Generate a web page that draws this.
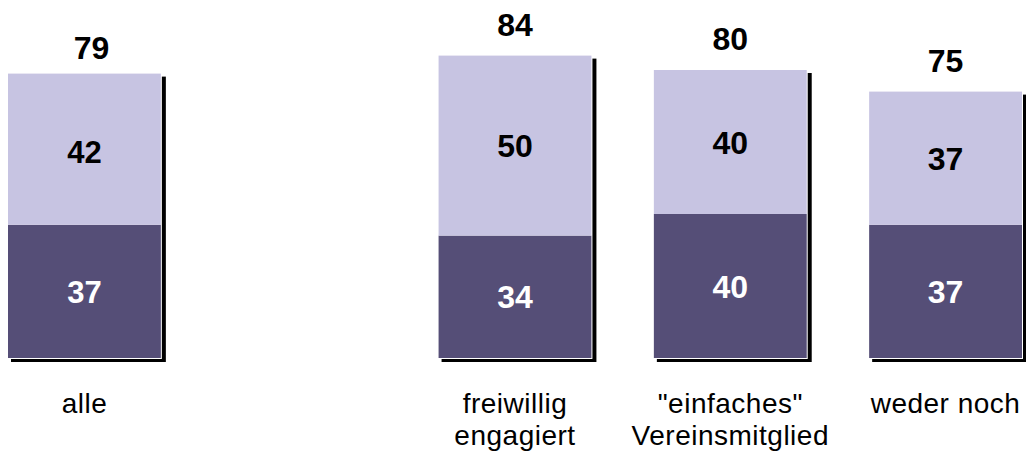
<!DOCTYPE html>
<html>
<head>
<meta charset="utf-8">
<script src="https://cdn.jsdelivr.net/npm/d3@7"></script>
<style>
  body { margin: 0; background: #fff; }
  svg text { font-family: 'Liberation Sans', Arial, sans-serif; }
</style>
</head>
<body>
<div id="chart"></div>
<script>
const width = 1026
const height = 457

// categories (empty slot keeps the gap after "alle")
const categories = ['alle', '', 'freiwillig engagiert', 'einfaches', 'weder noch']
const labelLines = [['alle'], [], ['freiwillig', 'engagiert'], ['"einfaches"', 'Vereinsmitglied'], ['weder noch']]
const lower = [37, null, 34, 40, 37]
const upper = [42, null, 50, 40, 37]
const totals = [79, null, 84, 80, 75]

const colors = { lower: '#554e77', upper: '#c7c4e2' }

const svg = d3
  .select('#chart')
  .append('svg')
  .attr('width', width)
  .attr('height', height)

const x = d3
  .scaleBand()
  .domain(categories)
  .range([8, 1022])
  .paddingInner(0.29)
  .paddingOuter(0)

const y = d3
  .scaleLinear()
  .domain([0, 100])
  .range([358, -2])

const rows = categories
  .map((c, i) => ({ c, i, lo: lower[i], up: upper[i], total: totals[i], lines: labelLines[i] }))
  .filter(d => d.lo !== null)

const bar = svg
  .selectAll('.bar')
  .data(rows)
  .enter()
  .append('g')
  .attr('class', 'bar')
  .attr('transform', d => `translate(${x(d.c)},0)`)

const w = x.bandwidth()

// shadow
bar
  .append('rect')
  .attr('x', 3)
  .attr('y', d => y(d.lo + d.up) + 3)
  .attr('width', w + 2)
  .attr('height', d => y(0) - y(d.lo + d.up) + 1)
  .attr('fill', '#000')

bar
  .append('rect')
  .attr('x', 0)
  .attr('y', d => y(d.lo + d.up))
  .attr('width', w + 1)
  .attr('height', d => y(0) - y(d.lo + d.up) + 1)
  .attr('fill', '#fff')

bar
  .append('rect')
  .attr('x', 0)
  .attr('y', d => y(d.lo))
  .attr('width', w)
  .attr('height', d => y(0) - y(d.lo))
  .attr('fill', colors.lower)

bar
  .append('rect')
  .attr('x', 0)
  .attr('y', d => y(d.lo + d.up))
  .attr('width', w)
  .attr('height', d => y(d.lo) - y(d.lo + d.up))
  .attr('fill', colors.upper)

const inner = d => (d.i === 0 ? 31 : 32)

bar
  .append('text')
  .attr('x', w / 2)
  .attr('y', d => (y(0) + y(d.lo)) / 2 + inner(d) * 0.36)
  .attr('text-anchor', 'middle')
  .attr('font-weight', 'bold')
  .attr('font-size', inner)
  .attr('fill', '#fff')
  .text(d => d.lo)

bar
  .append('text')
  .attr('x', w / 2)
  .attr('y', d => (y(d.lo) + y(d.lo + d.up)) / 2 + inner(d) * 0.36 + (d.i === 0 ? 3 : 0))
  .attr('text-anchor', 'middle')
  .attr('font-weight', 'bold')
  .attr('font-size', inner)
  .attr('fill', '#000')
  .text(d => d.up)

bar
  .append('text')
  .attr('x', d => w / 2 + (d.i === 0 ? 7 : 0))
  .attr('y', d => y(d.lo + d.up) - (d.i === 0 ? 15 : 20))
  .attr('text-anchor', 'middle')
  .attr('font-weight', 'bold')
  .attr('font-size', 32)
  .attr('fill', '#000')
  .text(d => d.total)

bar
  .append('text')
  .attr('x', w / 2)
  .attr('text-anchor', 'middle')
  .attr('font-size', 28)
  .attr('letter-spacing', 0.5)
  .attr('fill', '#000')
  .selectAll('tspan')
  .data(d => d.lines)
  .enter()
  .append('tspan')
  .attr('x', w / 2)
  .attr('y', (t, j) => 413 + j * 32)
  .text(t => t)
</script>
</body>
</html>
